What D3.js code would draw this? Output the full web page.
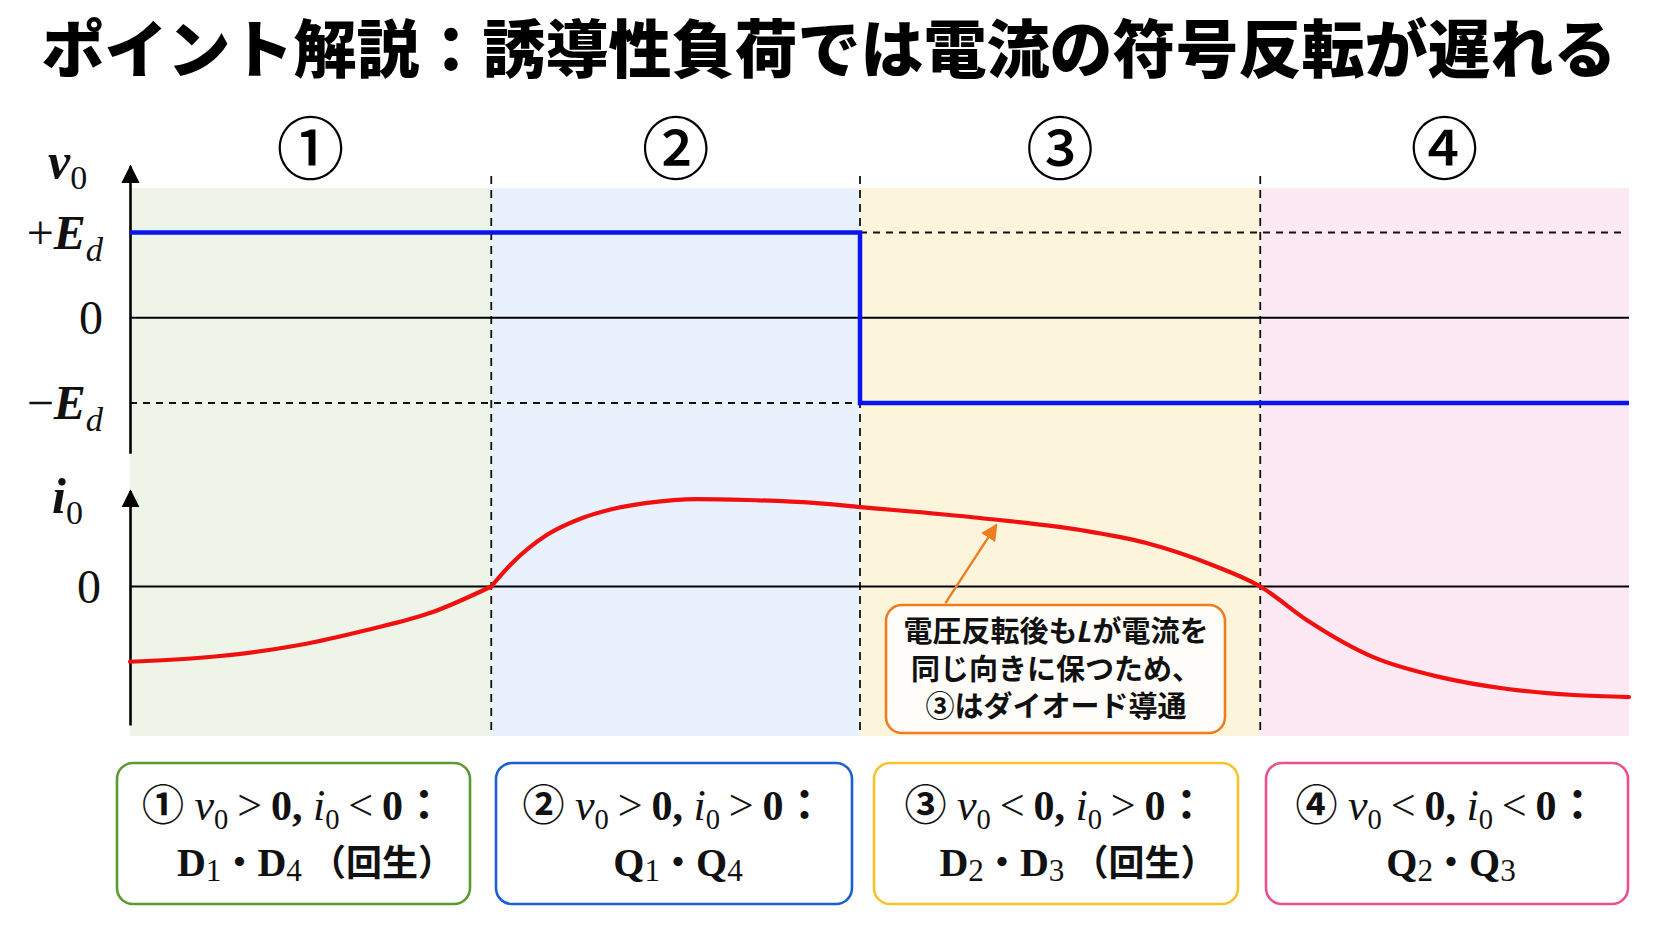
<!DOCTYPE html>
<html><head><meta charset="utf-8">
<script src="https://cdn.jsdelivr.net/npm/d3@7"></script>
<style>body{margin:0;background:#fff;overflow:hidden}</style>
</head><body>
<svg id="chart" width="1672" height="941"></svg>
<script>
// ---------------- DATA ----------------
const titleText = "ポイント解説：誘導性負荷では電流の符号反転が遅れる";
const segmentLabels = ["①", "②", "③", "④"];
const segmentBounds = [0, 24.1, 48.7, 75.4, 100];      // time units
const segmentFills = ["#eef5e8", "#e9f2fc", "#fdf4dc", "#fde9f3"];
const boxStrokes = ["#5b9a30", "#1c5fd4", "#f8c22a", "#ec4f8e"];

const vTickValues = [1, 0, -1];
const vTickLabels = [[["+", "sr"], ["E", "bi"], ["d", "isub"]], [["0", "sr"]], [["−", "sr"], ["E", "bi"], ["d", "isub"]]];
const iTickValues = [0];
const iTickLabels = [[["0", "sr"]]];
const vAxisTitle = [["v", "bi"], ["0", "sub"]];
const iAxisTitle = [["i", "bi"], ["0", "sub"]];

const voltageT = [0, 48.7, 48.7, 100];
const voltageV = [1, 1, -1, -1];

const currentT = [0, 4.7, 11.3, 15.8, 20.2, 24.1, 25.5, 27.8, 30.0, 32.2, 34.5, 37.8, 41.2, 45.6, 48.7, 56.7, 63.4, 67.8, 72.2, 75.4, 78.5, 82.9, 87.4, 91.9, 96.3, 100];
const currentI = [-0.855, -0.81, -0.665, -0.494, -0.29, 0, 0.267, 0.585, 0.767, 0.88, 0.95, 0.994, 0.983, 0.95, 0.903, 0.778, 0.642, 0.494, 0.244, 0, -0.381, -0.80, -1.03, -1.165, -1.233, -1.256];

const TS = "\u2009";
const boxLine1 = [
  [["①", "c"], [" ", "s"], ["v", "i"], ["0", "sub"], [TS + ">" + TS, "rel"], ["0, ", "s"], ["i", "i"], ["0", "sub"], [TS + "<" + TS, "rel"], ["0", "s"], ["：", "c"]],
  [["②", "c"], [" ", "s"], ["v", "i"], ["0", "sub"], [TS + ">" + TS, "rel"], ["0, ", "s"], ["i", "i"], ["0", "sub"], [TS + ">" + TS, "rel"], ["0", "s"], ["：", "c"]],
  [["③", "c"], [" ", "s"], ["v", "i"], ["0", "sub"], [TS + "<" + TS, "rel"], ["0, ", "s"], ["i", "i"], ["0", "sub"], [TS + ">" + TS, "rel"], ["0", "s"], ["：", "c"]],
  [["④", "c"], [" ", "s"], ["v", "i"], ["0", "sub"], [TS + "<" + TS, "rel"], ["0, ", "s"], ["i", "i"], ["0", "sub"], [TS + "<" + TS, "rel"], ["0", "s"], ["：", "c"]]
];
const boxLine2 = [
  [["D", "s"], ["1", "lsub"], ["・", "c2"], ["D", "s"], ["4", "lsub"], [" （回生）", "c2"]],
  [["Q", "s"], ["1", "lsub"], ["・", "c2"], ["Q", "s"], ["4", "lsub"]],
  [["D", "s"], ["2", "lsub"], ["・", "c2"], ["D", "s"], ["3", "lsub"], [" （回生）", "c2"]],
  [["Q", "s"], ["2", "lsub"], ["・", "c2"], ["Q", "s"], ["3", "lsub"]]
];
const calloutLines = [
  [["電圧反転後も", "cb"], ["L", "li"], ["が電流を", "cb"]],
  [["同じ向きに保つため、", "cb"]],
  [["③はダイオード導通", "cb"]]
];
const calloutTarget = { t: 57.8, i: 0.70 };
const calloutTail = { t: 54.4, i: -0.19 };

// ---------------- SETUP ----------------
const svg = d3.select("#chart");
const SERIF = "'Liberation Serif','DejaVu Serif','Times New Roman',serif";
const CJK = "'Noto Sans CJK JP','Noto Sans CJK SC',sans-serif";

const x = d3.scaleLinear().domain([0, 100]).range([130, 1629]);
const vY = d3.scaleLinear().domain([-1, 1]).range([403, 232.5]);
const iY = d3.scaleLinear().domain([0, 1]).range([586.5, 498.5]);
const plotTop = 188, plotBottom = 736;

const kinds = {
  c:    { f: CJK, w: 700, st: "normal", k: 1, sh: 0 },
  c2:   { f: CJK, w: 700, st: "normal", k: 0.9, sh: 0 },
  cb:   { f: CJK, w: 700, st: "normal", k: 1, sh: 0 },
  s:    { f: SERIF, w: 700, st: "normal", k: 1, sh: 0 },
  rel:  { f: SERIF, w: 400, st: "normal", k: 1.05, sh: 0 },
  sr:   { f: SERIF, w: 400, st: "normal", k: 1, sh: 0 },
  i:    { f: SERIF, w: 400, st: "italic", k: 1.05, sh: 0 },
  bi:   { f: SERIF, w: 700, st: "italic", k: 1, sh: 0 },
  sub:  { f: SERIF, w: 400, st: "normal", k: 0.68, sh: 0.22 },
  isub: { f: SERIF, w: 400, st: "italic", k: 0.72, sh: 0.25 },
  lsub: { f: SERIF, w: 400, st: "normal", k: 0.78, sh: 0.12 },
  li:   { f: "'Noto Sans','DejaVu Sans',sans-serif", w: 700, st: "italic", k: 1, sh: 0 }
};

function rich(parent, tokens, px, py, size, anchor) {
  const t = parent.append("text").attr("x", px).attr("y", py)
    .attr("text-anchor", anchor || "start").attr("fill", "#111");
  let cur = 0;
  tokens.forEach(([str, kind]) => {
    const K = kinds[kind];
    const fs = size * K.k;
    const target = K.sh * size;
    t.append("tspan")
      .attr("font-family", K.f).attr("font-weight", K.w).attr("font-style", K.st)
      .attr("font-size", fs).attr("dy", target - cur)
      .style("white-space", "pre")
      .text(str);
    cur = target;
  });
  return t;
}

// defs: arrow markers
const defs = svg.append("defs");
defs.append("marker").attr("id", "axArrow").attr("viewBox", "0 0 10 10")
  .attr("refX", 9).attr("refY", 5).attr("markerWidth", 7).attr("markerHeight", 7)
  .attr("markerUnits", "strokeWidth").attr("orient", "auto")
  .append("path").attr("d", "M0,0 L10,5 L0,10 Z").attr("fill", "#000");
defs.append("marker").attr("id", "orArrow").attr("viewBox", "0 0 10 10")
  .attr("refX", 9).attr("refY", 5).attr("markerWidth", 7).attr("markerHeight", 7)
  .attr("markerUnits", "strokeWidth").attr("orient", "auto")
  .append("path").attr("d", "M0,0 L10,5 L0,10 Z").attr("fill", "#ee7d22");

// ---------------- TITLE ----------------
svg.append("text").attr("x", 829).attr("y", 72).attr("text-anchor", "middle")
  .attr("font-family", CJK).attr("font-weight", 900).attr("font-size", 63)
  .attr("fill", "#000").text(titleText);

// ---------------- BACKGROUNDS ----------------
const segs = segmentLabels.map((lab, k) => ({ lab, k, a: segmentBounds[k], b: segmentBounds[k + 1] }));
svg.append("g").selectAll("rect").data(segs).join("rect")
  .attr("x", d => x(d.a)).attr("width", d => x(d.b) - x(d.a))
  .attr("y", plotTop).attr("height", plotBottom - plotTop)
  .attr("fill", d => segmentFills[d.k]);

// segment labels
svg.append("g").selectAll("text").data(segs).join("text")
  .attr("x", d => x((d.a + d.b) / 2)).attr("y", 174)
  .attr("text-anchor", "middle").attr("font-family", CJK).attr("font-weight", 500)
  .attr("font-size", 68).attr("fill", "#000").text(d => d.lab);

// ---------------- GUIDES ----------------
svg.append("line").attr("x1", x(voltageT[1])).attr("x2", x(99.7))
  .attr("y1", vY(1)).attr("y2", vY(1))
  .attr("stroke", "#111").attr("stroke-width", 1.8).attr("stroke-dasharray", "7,6");
svg.append("line").attr("x1", x(0)).attr("x2", x(voltageT[1]))
  .attr("y1", vY(-1)).attr("y2", vY(-1))
  .attr("stroke", "#111").attr("stroke-width", 1.8).attr("stroke-dasharray", "7,6");

svg.append("g").selectAll("line").data(segmentBounds.slice(1, 4)).join("line")
  .attr("x1", d => x(d)).attr("x2", d => x(d)).attr("y1", 176).attr("y2", plotBottom)
  .attr("stroke", "#111").attr("stroke-width", 1.8).attr("stroke-dasharray", "8,6");

svg.append("line").attr("x1", x(0)).attr("x2", x(100)).attr("y1", vY(0)).attr("y2", vY(0))
  .attr("stroke", "#000").attr("stroke-width", 2.2);
svg.append("line").attr("x1", x(0)).attr("x2", x(100)).attr("y1", iY(0)).attr("y2", iY(0))
  .attr("stroke", "#000").attr("stroke-width", 2.2);

// ---------------- AXES ----------------
const vAxisScale = vY.copy().domain([-1.59, 1.78]).range([vY(-1.59), vY(1.78)]);
const vAxis = svg.append("g").attr("transform", `translate(${x(0)},0)`)
  .call(d3.axisLeft(vAxisScale).tickValues(vTickValues).tickSize(0).tickSizeOuter(0).tickFormat(""));
vAxis.select(".domain").attr("stroke", "#000").attr("stroke-width", 2.6).attr("marker-end", "url(#axArrow)");

const iAxisScale = iY.copy().domain([-1.574, 1.09]).range([iY(-1.574), iY(1.09)]);
const iAxis = svg.append("g").attr("transform", `translate(${x(0)},0)`)
  .call(d3.axisLeft(iAxisScale).tickValues(iTickValues).tickSize(0).tickSizeOuter(0).tickFormat(""));
iAxis.select(".domain").attr("stroke", "#000").attr("stroke-width", 2.6).attr("marker-end", "url(#axArrow)");

vTickValues.forEach((v, k) => rich(svg, vTickLabels[k], 103, vY(v) + 16, 48, "end"));
iTickValues.forEach((v, k) => rich(svg, iTickLabels[k], 101, iY(v) + 16, 48, "end"));
rich(svg, vAxisTitle, 48, vY(1.64), 50, "start");
rich(svg, iAxisTitle, 52, iY(0.83), 50, "start");

// ---------------- SERIES ----------------
const vData = voltageT.map((t, k) => ({ t, v: voltageV[k] }));
svg.append("path").datum(vData)
  .attr("d", d3.line().x(d => x(d.t)).y(d => vY(d.v)))
  .attr("fill", "none").attr("stroke", "#0a14f0").attr("stroke-width", 4.5)
  .attr("stroke-linejoin", "miter");

const iData = currentT.map((t, k) => ({ t, i: currentI[k] }));
const kink = segmentBounds[1];
const iLine = d3.line().x(d => x(d.t)).y(d => iY(d.i)).curve(d3.curveMonotoneX);
[iData.filter(d => d.t <= kink), iData.filter(d => d.t >= kink)].forEach(part => {
  svg.append("path").datum(part).attr("d", iLine)
    .attr("fill", "none").attr("stroke", "#f01010").attr("stroke-width", 4.2)
    .attr("stroke-linecap", "round").attr("stroke-linejoin", "round");
});

// ---------------- CALLOUT ----------------
svg.append("line")
  .attr("x1", x(calloutTail.t)).attr("y1", iY(calloutTail.i))
  .attr("x2", x(calloutTarget.t)).attr("y2", iY(calloutTarget.i))
  .attr("stroke", "#ee7d22").attr("stroke-width", 2.4).attr("marker-end", "url(#orArrow)");
svg.append("rect").attr("x", 886).attr("y", 605).attr("width", 339).attr("height", 128)
  .attr("rx", 16).attr("fill", "#fffdf9").attr("stroke", "#ee7d22").attr("stroke-width", 2.6);
calloutLines.forEach((ln, k) => rich(svg, ln, 1056, 642 + k * 37.5, 29, "middle"));

// ---------------- BOTTOM BOXES ----------------
const boxes = [[117, 470], [496, 852], [874, 1238], [1266, 1628]];
boxes.forEach(([bx0, bx1], k) => {
  svg.append("rect").attr("x", bx0).attr("y", 763).attr("width", bx1 - bx0).attr("height", 141)
    .attr("rx", 16).attr("fill", "#fff").attr("stroke", boxStrokes[k]).attr("stroke-width", 2.6);
  const cx = (bx0 + bx1) / 2;
  const shift = boxLine2[k].length > 5 ? 22 : 4;
  rich(svg, boxLine1[k], cx, 820, 42, "middle");
  rich(svg, boxLine2[k], cx + shift, 876, 40, "middle");
});
</script>
</body></html>
